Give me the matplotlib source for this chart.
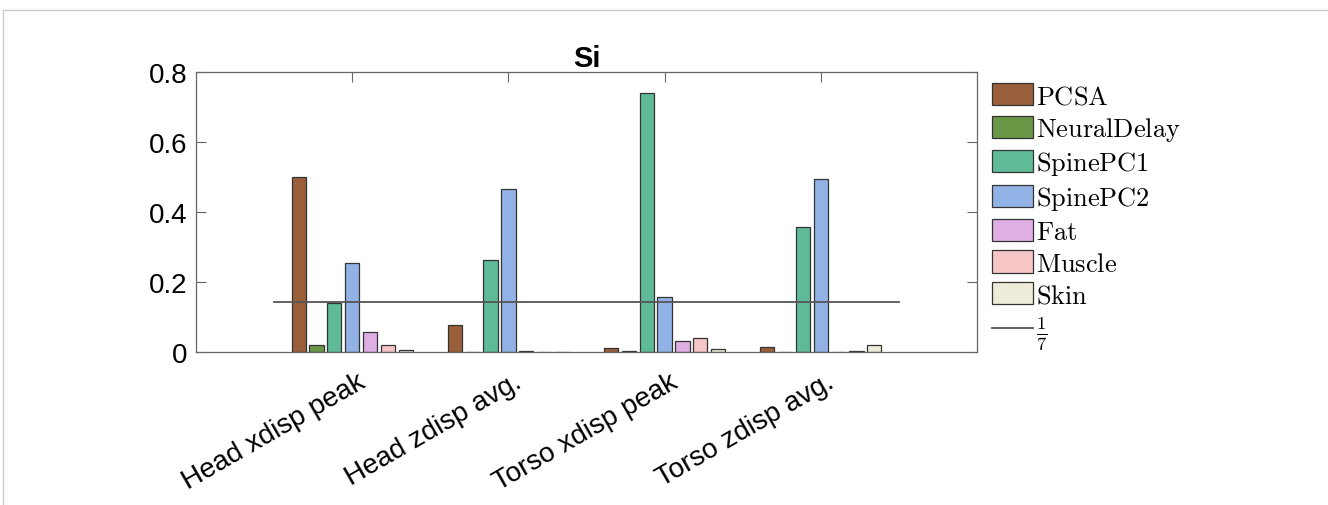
import matplotlib
matplotlib.use("Agg")
import matplotlib.pyplot as plt
import matplotlib.transforms as mtransforms
from matplotlib.lines import Line2D
import numpy as np

plt.rcParams['font.family'] = ['Liberation Sans', 'DejaVu Sans']
plt.rcParams['mathtext.fontset'] = 'cm'

# 数据：四个输出指标，七个参数的一阶敏感度指数 Si
outputs = ["Head xdisp peak", "Head zdisp avg.", "Torso xdisp peak", "Torso zdisp avg."]
params = ["PCSA", "NeuralDelay", "SpinePC1", "SpinePC2", "Fat", "Muscle", "Skin"]
pcsa = [0.500, 0.078, 0.011, 0.014]
neural_delay = [0.021, 0.0005, 0.004, 0.0005]
spine_pc1 = [0.140, 0.264, 0.740, 0.358]
spine_pc2 = [0.254, 0.466, 0.158, 0.495]
fat = [0.057, 0.002, 0.032, 0.0005]
muscle = [0.020, 0.0003, 0.041, 0.002]
skin = [0.006, 0.0003, 0.010, 0.021]
series = [pcsa, neural_delay, spine_pc1, spine_pc2, fat, muscle, skin]
colors = ["#995f3a", "#6b9846", "#5fba98", "#92b2e6", "#deaee4", "#f6c6c6", "#ececd8"]
yticks = [0, 0.2, 0.4, 0.6, 0.8]
ytick_labels = ["0", "0.2", "0.4", "0.6", "0.8"]
threshold = 1 / 7

fig = plt.figure(figsize=(13.28, 5.06), dpi=100)
ax = fig.add_axes([196 / 1328, 1 - 353 / 506, (977 - 196) / 1328, (353 - 73) / 506])

# 分组柱状图（和 MATLAB bar 的分组宽度一致）
n = len(params)
group_w = min(0.8, n / (n + 1.5))
step = group_w / n
x = np.arange(1, len(outputs) + 1)
handles = []
for i, (vals, c) in enumerate(zip(series, colors)):
    offs = (i - (n - 1) / 2) * step
    b = ax.bar(x + offs, vals, width=step * 0.8, color=c, edgecolor="#333333",
               linewidth=0.9, label=r"$\mathrm{%s}$" % params[i], zorder=2)
    handles.append(b)

# 1/7 参考线
ln, = ax.plot([0.5, 4.5], [threshold, threshold], color="#555555", linewidth=1.3,
              label=r"$\frac{1}{7}$", zorder=3)
handles.append(ln)

ax.set_xlim(0, 5)
ax.set_ylim(0, 0.8)
ax.set_xticks(x)
ax.set_xticklabels(outputs, rotation=30, ha="right", va="top", rotation_mode="anchor")
ax.set_yticks(yticks)
ax.set_yticklabels(ytick_labels)
ax.tick_params(direction="in", top=True, right=True, length=7, width=0.8,
               color="#666666", labelsize=20, pad=6)
for lab in ax.get_xticklabels():
    lab.set_transform(lab.get_transform() + mtransforms.ScaledTranslation(0.05, -0.08, fig.dpi_scale_trans))
for sp in ax.spines.values():
    sp.set_color("#666666")
    sp.set_linewidth(0.9)
ax.set_title("Si", fontsize=21, fontweight="bold", pad=4)

ax.legend(handles=handles, loc="upper left", bbox_to_anchor=(992 / 1328, 1 - 84 / 506),
          bbox_transform=fig.transFigure, frameon=False, fontsize=19,
          borderpad=0, borderaxespad=0, handlelength=1.55, handleheight=0.92,
          handletextpad=0.12, labelspacing=0.25)

# 截图边框线
fig.add_artist(Line2D([3 / 1328, 1], [1 - 11 / 506, 1 - 11 / 506], color="#cccccc", linewidth=1))
fig.add_artist(Line2D([3 / 1328, 3 / 1328], [0, 1 - 11 / 506], color="#cccccc", linewidth=1))

fig.savefig("out.png", dpi=100)
